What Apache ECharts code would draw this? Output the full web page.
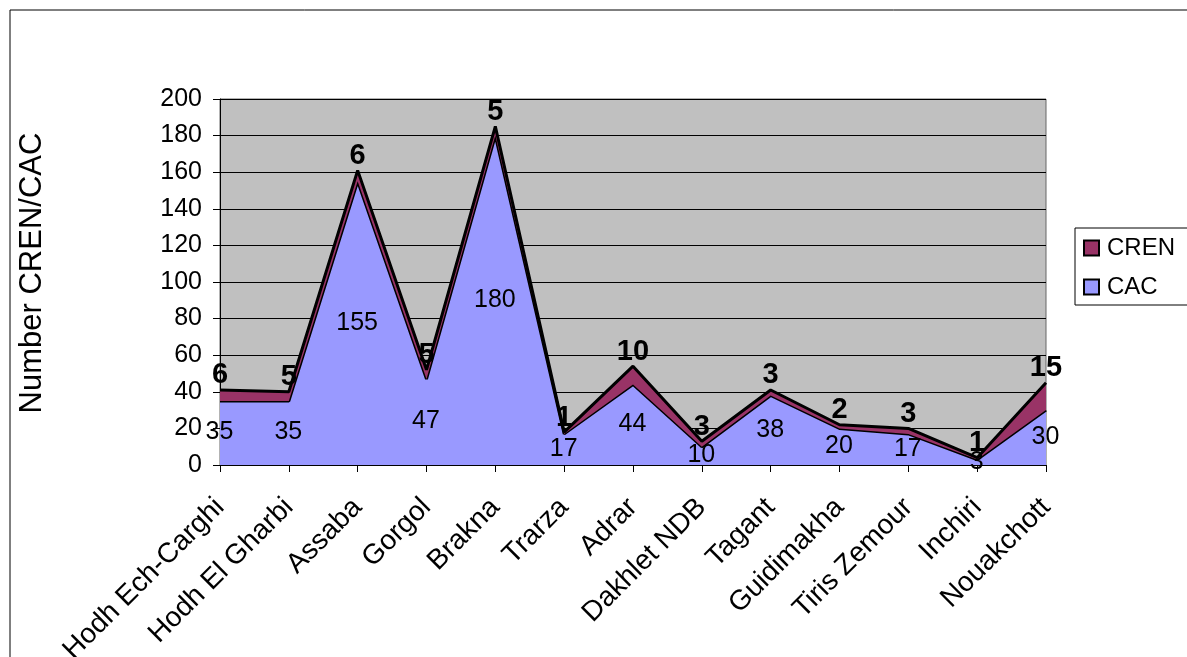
<!DOCTYPE html>
<html>
<head>
<meta charset="utf-8">
<script src="https://cdn.jsdelivr.net/npm/echarts@6/dist/echarts.min.js"></script>
<style>
  html, body { margin: 0; padding: 0; background: #fff; }
  #chart { width: 1187px; height: 657px; }
</style>
</head>
<body>
<div id="chart"></div>
<script>
// regions
const regions = ['Hodh Ech-Carghi', 'Hodh El Gharbi', 'Assaba', 'Gorgol', 'Brakna', 'Trarza', 'Adrar',
  'Dakhlet NDB', 'Tagant', 'Guidimakha', 'Tiris Zemour', 'Inchiri', 'Nouakchott']
const cac = [35, 35, 155, 47, 180, 17, 44, 10, 38, 20, 17, 3, 30]
const cren = [6, 5, 6, 5, 5, 1, 10, 3, 3, 2, 3, 1, 15]
const yTicks = [0, 20, 40, 60, 80, 100, 120, 140, 160, 180, 200]

const font = 'Liberation Sans, Arial, sans-serif'

const chart = echarts.init(document.getElementById('chart'))

const option = {
  animation: false,
  backgroundColor: '#fff',
  textStyle: { fontFamily: font },
  graphic: [{
    type: 'rect',
    shape: { x: 10, y: 10, width: 1200, height: 700 },
    style: { fill: 'none', stroke: '#000', lineWidth: 1 }
  }],
  grid: {
    left: 220, right: 141, top: 99, bottom: 192,
    outerBoundsMode: 'none',
    containLabel: false,
    show: true, backgroundColor: '#c0c0c0', borderColor: '#666', borderWidth: 1
  },
  legend: {
    left: 1075, top: 228,
    orient: 'vertical',
    itemGap: 15,
    itemWidth: 15, itemHeight: 15,
    icon: 'rect',
    padding: [8, 40, 6, 8],
    borderColor: '#000', borderWidth: 1,
    textStyle: { fontSize: 24, color: '#000', fontFamily: font, padding: [0, 0, 0, 3] },
    data: [
      { name: 'CREN', itemStyle: { color: '#993366', borderColor: '#000', borderWidth: 2 } },
      { name: 'CAC', itemStyle: { color: '#9999ff', borderColor: '#000', borderWidth: 2 } }
    ]
  },
  xAxis: {
    type: 'category',
    data: regions,
    boundaryGap: false,
    axisLine: { lineStyle: { color: '#000', width: 1 } },
    axisTick: { show: true, length: 7, alignWithLabel: true, lineStyle: { color: '#000' } },
    axisLabel: { rotate: 45, fontSize: 28, color: '#000', margin: 38, interval: 0, fontFamily: font },
    splitLine: { show: false }
  },
  yAxis: {
    type: 'value',
    min: 0, max: 200, interval: 20,
    name: 'Number CREN/CAC',
    nameLocation: 'middle',
    nameGap: 172,
    nameTextStyle: { fontSize: 31, color: '#000', fontFamily: font, padding: [0, 0, 0, 18] },
    axisLine: { show: true, lineStyle: { color: '#000' } },
    axisTick: { show: true, length: 7, inside: false, lineStyle: { color: '#000' } },
    axisLabel: {
      fontSize: 25, color: '#000', margin: 18, fontFamily: font,
      formatter: v => yTicks.includes(v) ? String(v) : ''
    },
    splitLine: { show: true, lineStyle: { color: '#000', width: 1 } }
  },
  series: [
    {
      name: 'CAC',
      type: 'line',
      stack: 'total',
      data: cac,
      symbol: 'none',
      z: 2,
      lineStyle: { color: '#000', width: 3 },
      itemStyle: { color: '#9999ff' },
      areaStyle: { color: '#9999ff', opacity: 1 }
    },
    {
      name: 'CREN',
      type: 'line',
      stack: 'total',
      data: cren,
      symbol: 'circle',
      symbolSize: 0.1,
      showSymbol: true,
      z: 3,
      lineStyle: { color: '#000', width: 3 },
      itemStyle: { color: '#993366' },
      areaStyle: { color: '#993366', opacity: 1 },
      label: {
        show: true, position: 'top', distance: 0,
        fontSize: 29, fontWeight: 'bold', color: '#000', fontFamily: font
      }
    },
    {
      // CAC value labels drawn at the middle of the CAC area
      name: 'CAC labels',
      type: 'scatter',
      data: cac.map(v => v / 2),
      symbol: 'circle',
      symbolSize: 1,
      itemStyle: { color: 'rgba(0,0,0,0)' },
      z: 4,
      silent: true,
      label: {
        show: true, position: [0, 0], align: 'center', verticalAlign: 'middle',
        fontSize: 25, color: '#000', opacity: 1, textBorderWidth: 0, fontFamily: font,
        formatter: p => String(cac[p.dataIndex])
      }
    }
  ]
}

chart.setOption(option)
</script>
</body>
</html>
